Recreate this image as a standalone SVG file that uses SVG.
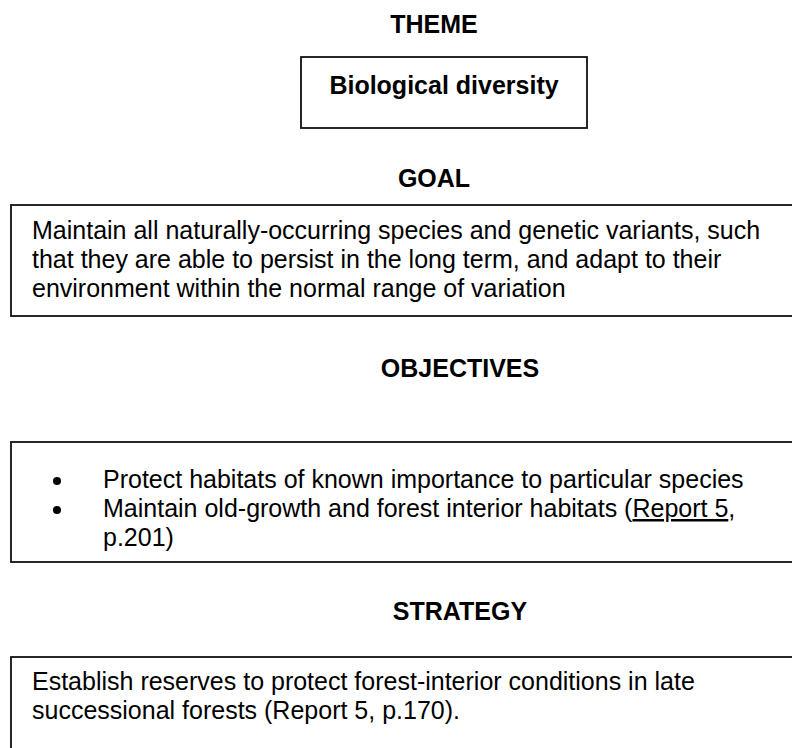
<svg xmlns="http://www.w3.org/2000/svg" width="792" height="748" viewBox="0 0 792 748">
<style>
.t{font-family:"Liberation Sans",Arial,sans-serif;font-size:25px;fill:#000}
.b{font-weight:bold}
.h{font-weight:bold;text-anchor:middle}
.box{fill:#fff;stroke:#111;stroke-width:1.8}
</style>
<rect x="0" y="0" width="792" height="748" fill="#fff"/>
<g id="theme">
<text class="t h" x="434" y="33">THEME</text>
<rect class="box" x="301" y="57" width="286" height="71"/>
<text class="t h" x="444" y="94">Biological diversity</text>
</g>
<g id="goal">
<text class="t h" x="434" y="187">GOAL</text>
<rect class="box" x="11" y="205" width="800" height="111"/>
<text class="t" x="32" y="239">Maintain all naturally-occurring species and genetic variants, such</text>
<text class="t" x="32" y="268">that they are able to persist in the long term, and adapt to their</text>
<text class="t" x="32" y="297">environment within the normal range of variation</text>
</g>
<g id="objectives">
<text class="t h" x="460" y="377">OBJECTIVES</text>
<rect class="box" x="11" y="442" width="800" height="120"/>
<circle cx="57" cy="481" r="4" fill="#000"/>
<circle cx="57" cy="510" r="4" fill="#000"/>
<text class="t" x="103" y="488">Protect habitats of known importance to particular species</text>
<text class="t" x="103" y="517">Maintain old-growth and forest interior habitats (<tspan text-decoration="underline">Report 5</tspan>,</text>
<text class="t" x="103" y="546">p.201)</text>
</g>
<g id="strategy">
<text class="t h" x="460" y="620">STRATEGY</text>
<rect class="box" x="11" y="657" width="800" height="120"/>
<text class="t" x="32" y="690">Establish reserves to protect forest-interior conditions in late</text>
<text class="t" x="32" y="719">successional forests (Report 5, p.170).</text>
</g>
<g id="connectors"/>
</svg>
